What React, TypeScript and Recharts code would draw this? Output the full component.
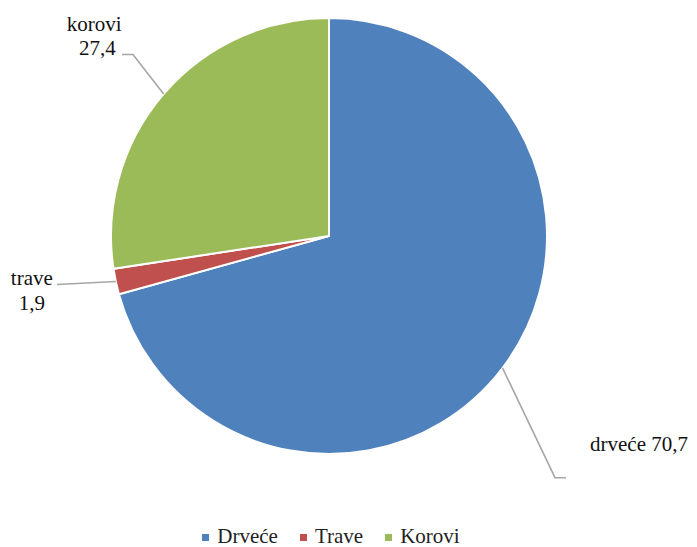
import React from 'react';
import { PieChart, Pie, Cell, Legend } from 'recharts';

const categories = ['Drveće', 'Trave', 'Korovi'];
const labelNames = ['drveće', 'trave', 'korovi'];
const values = [70.7, 1.9, 27.4];
const colors = ['#4F81BD', '#C0504D', '#9BBB59'];

const data = categories.map((name, i) => ({ name, label: labelNames[i], value: values[i] }));

const FONT = "'Liberation Serif', 'Times New Roman', serif";
const FS = 21;

// leader line points and text baselines, as offsets from the slice edge point
const labelLayout = [
    { line: [[52.5, 109.7], [63.5, 109.7]], text: [[87.5, 83.5]], anchor: 'start', oneLine: true },
    { line: [[-58.8, 3]], text: [[-84, 3]], anchor: 'middle', oneLine: false },
    { line: [[-30.7, -39.4], [-41.7, -39.4]], text: [[-69.5, -63], [-66.2, -39]], anchor: 'middle', oneLine: false }
];
labelLayout[1].text.push([-84, 28.5]);

const RADIAN = Math.PI / 180;

const renderLabel = (props: any) => {
    const { cx, cy, midAngle, outerRadius, index } = props;
    const d = data[index];
    const lay = labelLayout[index];
    const x0 = cx + outerRadius * Math.cos(-midAngle * RADIAN);
    const y0 = cy + outerRadius * Math.sin(-midAngle * RADIAN);
    const pts = [[x0, y0], ...lay.line.map(([dx, dy]) => [x0 + dx, y0 + dy])];
    const valueText = String(d.value).replace('.', ',');
    const lines = lay.oneLine ? [`${d.label} ${valueText}`] : [d.label, valueText];
    return (
        <g>
            <polyline
                points={pts.map((p) => p.join(',')).join(' ')}
                fill="none"
                stroke="#A6A6A6"
                strokeWidth={1.6}
            />
            {lines.map((t, k) => (
                <text
                    key={k}
                    x={x0 + lay.text[k][0]}
                    y={y0 + lay.text[k][1]}
                    textAnchor={lay.anchor as any}
                    style={{ fontFamily: FONT, fontSize: FS }}
                    fill="#111"
                >
                    {t}
                </text>
            ))}
        </g>
    );
};

const renderLegend = () => (
    <div style={{ display: 'flex', justifyContent: 'center', fontFamily: FONT, fontSize: FS, color: '#222', lineHeight: '20px' }}>
        {data.map((d, i) => (
            <div key={d.name} style={{ display: 'flex', alignItems: 'center', marginRight: i < data.length - 1 ? 22 : 0 }}>
                <span
                    style={{
                        width: 7,
                        height: 7,
                        background: colors[i],
                        display: 'inline-block',
                        marginRight: 8,
                        position: 'relative',
                        top: 1
                    }}
                />
                <span>{d.name}</span>
            </div>
        ))}
    </div>
);

const App: React.FC = () => {
    return (
        <div style={{ position: 'absolute', left: 0, top: 0, width: 697, height: 547, background: '#fff' }}>
            <PieChart width={697} height={547} margin={{ top: 0, right: 0, bottom: 0, left: 0 }}>
                <Pie
                    data={data}
                    dataKey="value"
                    nameKey="name"
                    cx={329}
                    cy={236}
                    outerRadius={218}
                    startAngle={90}
                    endAngle={-270}
                    stroke="#fff"
                    strokeWidth={2}
                    label={renderLabel}
                    labelLine={false}
                    isAnimationActive={false}
                >
                    {data.map((d, i) => (
                        <Cell key={d.name} fill={colors[i]} />
                    ))}
                </Pie>
                <Legend
                    content={renderLegend}
                    verticalAlign="bottom"
                    wrapperStyle={{ top: 526, bottom: 'auto', left: 0, width: 662 }}
                />
            </PieChart>
        </div>
    );
};

export default App;
